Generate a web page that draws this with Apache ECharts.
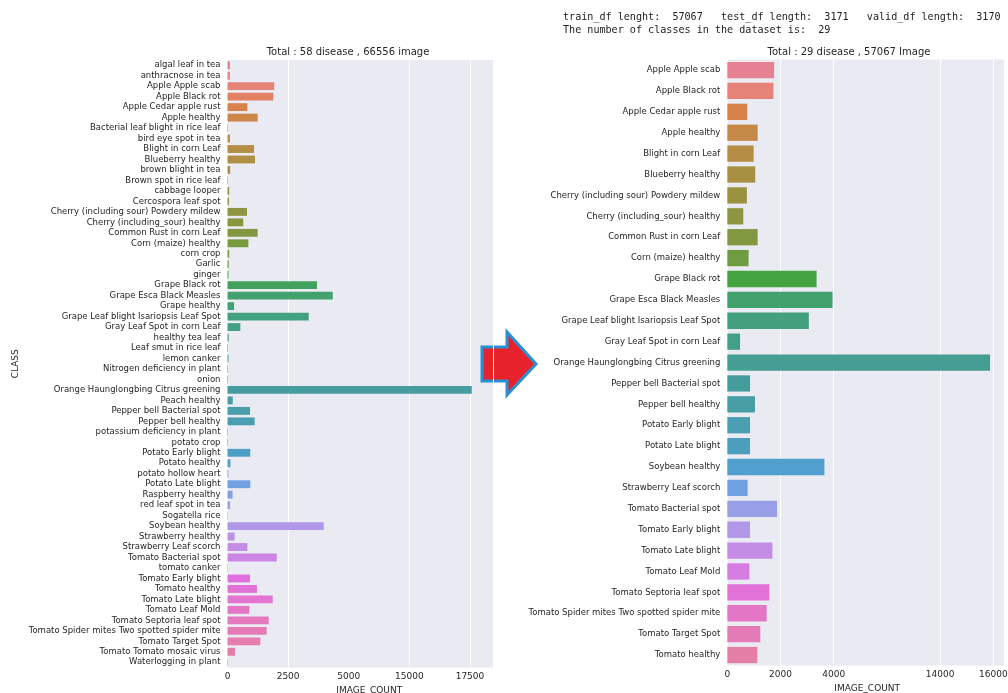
<!DOCTYPE html>
<html><head><meta charset="utf-8">
<script src="https://cdn.jsdelivr.net/npm/echarts@6.0.0/dist/echarts.min.js"></script>
<style>html,body{margin:0;padding:0;background:#fff;}#c{width:1008px;height:693px;}</style>
</head><body><div id="c"></div>
<script>
const leftCategories = [
  'algal leaf in tea','anthracnose in tea','Apple Apple scab','Apple Black rot','Apple Cedar apple rust','Apple healthy',
  'Bacterial leaf blight in rice leaf','bird eye spot in tea','Blight in corn Leaf','Blueberry healthy','brown blight in tea',
  'Brown spot in rice leaf','cabbage looper','Cercospora leaf spot','Cherry (including sour) Powdery mildew',
  'Cherry (including_sour) healthy','Common Rust in corn Leaf','Corn (maize) healthy','corn crop','Garlic','ginger',
  'Grape Black rot','Grape Esca Black Measles','Grape healthy','Grape Leaf blight Isariopsis Leaf Spot',
  'Gray Leaf Spot in corn Leaf','healthy tea leaf','Leaf smut in rice leaf','lemon canker','Nitrogen deficiency in plant',
  'onion','Orange Haunglongbing Citrus greening','Peach healthy','Pepper bell Bacterial spot','Pepper bell healthy',
  'potassium deficiency in plant','potato crop','Potato Early blight','Potato healthy','potato hollow heart',
  'Potato Late blight','Raspberry healthy','red leaf spot in tea','Sogatella rice','Soybean healthy','Strawberry healthy',
  'Strawberry Leaf scorch','Tomato Bacterial spot','tomato canker','Tomato Early blight','Tomato healthy',
  'Tomato Late blight','Tomato Leaf Mold','Tomato Septoria leaf spot','Tomato Spider mites Two spotted spider mite',
  'Tomato Target Spot','Tomato Tomato mosaic virus','Waterlogging in plant'
];
const leftValues = [
  100, 100, 1930, 1890, 820, 1245,
  20, 100, 1095, 1135, 110,
  20, 70, 60, 805,
  650, 1245, 860, 70, 50, 40,
  3690, 4340, 270, 3350,
  530, 50, 20, 40, 20,
  20, 17574, 215, 930, 1120,
  20, 20, 940, 120, 30,
  940, 210, 105, 20, 3970, 295,
  820, 2030, 20, 930, 1215,
  1865, 900, 1700, 1615,
  1355, 310, 20
];
const rightCategories = [
  'Apple Apple scab','Apple Black rot','Apple Cedar apple rust','Apple healthy','Blight in corn Leaf','Blueberry healthy',
  'Cherry (including sour) Powdery mildew','Cherry (including_sour) healthy','Common Rust in corn Leaf','Corn (maize) healthy',
  'Grape Black rot','Grape Esca Black Measles','Grape Leaf blight Isariopsis Leaf Spot','Gray Leaf Spot in corn Leaf',
  'Orange Haunglongbing Citrus greening','Pepper bell Bacterial spot','Pepper bell healthy','Potato Early blight',
  'Potato Late blight','Soybean healthy','Strawberry Leaf scorch','Tomato Bacterial spot','Tomato Early blight',
  'Tomato Late blight','Tomato Leaf Mold','Tomato Septoria leaf spot','Tomato Spider mites Two spotted spider mite',
  'Tomato Target Spot','Tomato healthy'
];
const rightValues = [
  1760, 1735, 750, 1140, 990, 1050,
  735, 600, 1140, 800,
  3355, 3955, 3065, 480,
  15876, 855, 1040, 855,
  855, 3650, 765, 1870, 855,
  1695, 830, 1580, 1480,
  1240, 1130
];
const leftTickLabels = [0, 2500, 5000, 15000, 17500];
const rightTickLabels = [0, 2000, 4000, 14000, 16000];
const leftBreak = [5000, 12500];
const rightBreak = [6000, 12000];
const leftTitle = 'Total : 58 disease , 66556 image';
const rightTitle = 'Total : 29 disease , 57067 Image';
const infoLine1 = 'train_df lenght:  57067   test_df length:  3171   valid_df length:  3170';
const infoLine2 = 'The number of classes in the dataset is:  29';

// ---- seaborn husl palette ----
const HM = [[3.2406,-1.5372,-0.4986],[-0.9689,1.8758,0.0415],[0.0557,-0.2040,1.0570]];
function maxChroma(L, H) {
  const hr = H * Math.PI / 180, sinH = Math.sin(hr), cosH = Math.cos(hr);
  const sub1 = Math.pow(L + 16, 3) / 1560896;
  const sub2 = sub1 > 0.008856 ? sub1 : L / 903.3;
  let res = Infinity;
  for (const [m1, m2, m3] of HM) {
    const top = (0.99915 * m1 + 1.05122 * m2 + 1.14460 * m3) * sub2;
    const rb = 0.86330 * m3 - 0.17266 * m2, lb = 0.12949 * m3 - 0.38848 * m1;
    const bottom = (rb * sinH + lb * cosH) * sub2;
    for (const t of [0, 1]) {
      const C = L * (top - 1.05122 * t) / (bottom + 0.17266 * sinH * t);
      if (C > 0 && C < res) res = C;
    }
  }
  return res;
}
function huslToRgb(h, s, l) {
  const C = maxChroma(l, h) / 100 * s;
  const hr = h * Math.PI / 180, U = Math.cos(hr) * C, V = Math.sin(hr) * C;
  if (l === 0) return [0, 0, 0];
  const t = (l + 16) / 116;
  const varY = Math.pow(t, 3) > 0.008856 ? Math.pow(t, 3) : (116 * t - 16) / 903.3;
  const varU = U / (13 * l) + 0.19784, varV = V / (13 * l) + 0.46834;
  const Y = varY, X = -(9 * Y * varU) / ((varU - 4) * varV - varU * varV);
  const Z = (9 * Y - 15 * varV * Y - varV * X) / (3 * varV);
  return HM.map(r => {
    const c = r[0] * X + r[1] * Y + r[2] * Z;
    const v = c <= 0.0031308 ? 12.92 * c : 1.055 * Math.pow(c, 1 / 2.4) - 0.055;
    return Math.min(1, Math.max(0, v));
  });
}
function desat(rgb, p) {
  const [r, g, b] = rgb, mx = Math.max(r, g, b), mn = Math.min(r, g, b), l = (mx + mn) / 2;
  if (mx === mn) return rgb;
  let s = l <= 0.5 ? (mx - mn) / (mx + mn) : (mx - mn) / (2 - mx - mn);
  const rc = (mx - r) / (mx - mn), gc = (mx - g) / (mx - mn), bc = (mx - b) / (mx - mn);
  let h = r === mx ? bc - gc : (g === mx ? 2 + rc - bc : 4 + gc - rc);
  h = ((h / 6) % 1 + 1) % 1;
  s *= p;
  const m2 = l <= 0.5 ? l * (1 + s) : l + s - l * s, m1 = 2 * l - m2;
  const v = hh => { hh = ((hh % 1) + 1) % 1; if (hh < 1/6) return m1 + (m2 - m1) * hh * 6; if (hh < 0.5) return m2; if (hh < 2/3) return m1 + (m2 - m1) * (2/3 - hh) * 6; return m1; };
  return [v(h + 1/3), v(h), v(h - 1/3)];
}
function palette(n) {
  const out = [];
  for (let i = 0; i < n; i++) {
    const h = ((i / n + 0.01) % 1) * 359;
    const c = desat(huslToRgb(h, 0.9 * 99, 0.65 * 99), 0.75);
    out.push('rgb(' + c.map(x => Math.round(x * 255)).join(',') + ')');
  }
  return out;
}
const leftColors = palette(leftCategories.length);
const rightColors = palette(rightCategories.length);

const FONT = 'DejaVu Sans';
const TXT = '#262626';
const chart = echarts.init(document.getElementById('c'));

function xAxisCfg(gridIndex, max, interval, brk, labels, nameGap, namePad) {
  return {
    type: 'value', gridIndex, min: 0, max, interval,
    breaks: [{ start: brk[0], end: brk[1], gap: 0 }],
    breakArea: { show: false },
    breakLabelLayout: { moveOverlap: false },
    axisLine: { show: false }, axisTick: { show: false },
    splitLine: { show: true, lineStyle: { color: '#ffffff', width: 1 } },
    axisLabel: {
      fontFamily: FONT, fontSize: 9, color: TXT, margin: 5, hideOverlap: false,
      formatter: v => labels.indexOf(Math.round(v)) >= 0 ? String(Math.round(v)) : ''
    },
    name: 'IMAGE_COUNT', nameLocation: 'middle', nameGap,
    nameTextStyle: { fontFamily: FONT, fontSize: 9, color: TXT, padding: namePad }
  };
}
function yAxisCfg(gridIndex, cats, name) {
  return {
    type: 'category', gridIndex, data: cats, inverse: true,
    axisLine: { show: false }, axisTick: { show: false }, splitLine: { show: false },
    axisLabel: { interval: 0, fontFamily: FONT, fontSize: 8.5, color: TXT, margin: 7 },
    name: name || '', nameLocation: 'middle', nameGap: 207, nameRotate: 90,
    nameTextStyle: { fontFamily: FONT, fontSize: 9, color: TXT }
  };
}

chart.setOption({
  animation: false,
  backgroundColor: '#ffffff',
  grid: [
    { left: 227.5, right: 515, top: 60, bottom: 25.5, show: true, backgroundColor: '#eaeaf2', borderWidth: 0, containLabel: false, outerBoundsMode: 'none' },
    { left: 727.3, right: 4, top: 59.6, bottom: 27.5, show: true, backgroundColor: '#eaeaf2', borderWidth: 0, containLabel: false, outerBoundsMode: 'none' }
  ],
  xAxis: [
    xAxisCfg(0, 18450, 2500, leftBreak, leftTickLabels, 17, [0, 0, 0, 18]),
    xAxisCfg(1, 16400, 2000, rightBreak, rightTickLabels, 18.5, [0, 0, 0, 3])
  ],
  yAxis: [
    yAxisCfg(0, leftCategories, 'CLASS'),
    yAxisCfg(1, rightCategories, '')
  ],
  series: [
    {
      type: 'bar', xAxisIndex: 0, yAxisIndex: 0, barCategoryGap: '25%',
      data: leftValues.map((v, i) => ({ value: v, itemStyle: { color: leftColors[i] } }))
    },
    {
      type: 'bar', xAxisIndex: 1, yAxisIndex: 1, barCategoryGap: '22%',
      data: rightValues.map((v, i) => ({ value: v, itemStyle: { color: rightColors[i] } }))
    }
  ],
  graphic: [
    { type: 'text', x: 348, y: 52, style: { text: leftTitle, font: '10px "DejaVu Sans"', fill: TXT, align: 'center', verticalAlign: 'middle' } },
    { type: 'text', x: 849, y: 52, style: { text: rightTitle, font: '10px "DejaVu Sans"', fill: TXT, align: 'center', verticalAlign: 'middle' } },
    { type: 'text', x: 563, y: 17, style: { text: infoLine1, font: '10.1px "DejaVu Sans Mono"', fill: '#222', align: 'left', verticalAlign: 'middle' } },
    { type: 'text', x: 563, y: 30, style: { text: infoLine2, font: '10.1px "DejaVu Sans Mono"', fill: '#222', align: 'left', verticalAlign: 'middle' } },
    { type: 'polygon', shape: { points: [[482,347],[507,347],[507,332],[536,364],[507,395],[507,381],[482,381]] },
      style: { fill: '#e8222b', stroke: '#2b8fd4', lineWidth: 3, lineJoin: 'miter' } }
  ]
});
</script></body></html>
